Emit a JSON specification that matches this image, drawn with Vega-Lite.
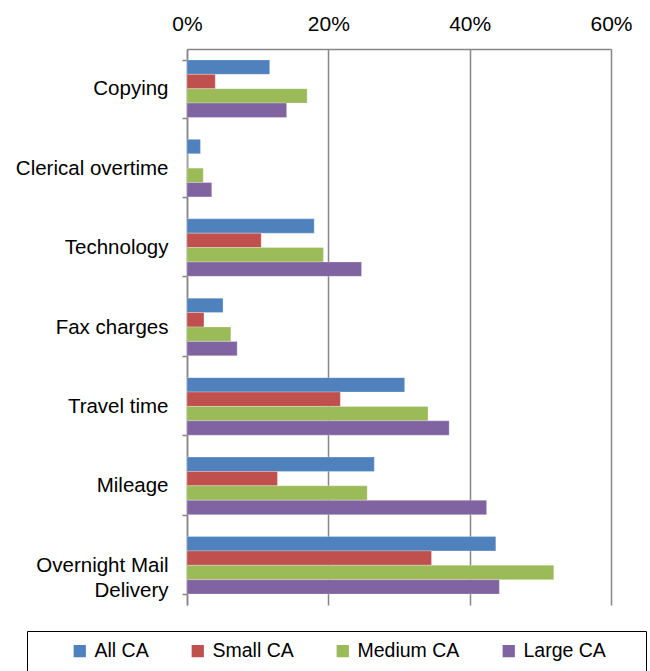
{
  "$schema": "https://vega.github.io/schema/vega-lite/v6.json",
  "autosize": {"type": "none"},
  "width": 424,
  "height": 556,
  "padding": {"left": 187, "top": 49, "right": 39, "bottom": 66},
  "background": "white",
  "config": {
    "font": "Liberation Sans, Arial, sans-serif",
    "view": {"stroke": null}
  },
  "data": {
    "values": [
      {"expense": "Copying", "group": "All CA", "value": 0.117},
      {"expense": "Copying", "group": "Small CA", "value": 0.040},
      {"expense": "Copying", "group": "Medium CA", "value": 0.170},
      {"expense": "Copying", "group": "Large CA", "value": 0.141},
      {"expense": "Clerical overtime", "group": "All CA", "value": 0.019},
      {"expense": "Clerical overtime", "group": "Small CA", "value": 0.0},
      {"expense": "Clerical overtime", "group": "Medium CA", "value": 0.023},
      {"expense": "Clerical overtime", "group": "Large CA", "value": 0.035},
      {"expense": "Technology", "group": "All CA", "value": 0.180},
      {"expense": "Technology", "group": "Small CA", "value": 0.105},
      {"expense": "Technology", "group": "Medium CA", "value": 0.193},
      {"expense": "Technology", "group": "Large CA", "value": 0.247},
      {"expense": "Fax charges", "group": "All CA", "value": 0.051},
      {"expense": "Fax charges", "group": "Small CA", "value": 0.024},
      {"expense": "Fax charges", "group": "Medium CA", "value": 0.062},
      {"expense": "Fax charges", "group": "Large CA", "value": 0.071},
      {"expense": "Travel time", "group": "All CA", "value": 0.308},
      {"expense": "Travel time", "group": "Small CA", "value": 0.217},
      {"expense": "Travel time", "group": "Medium CA", "value": 0.341},
      {"expense": "Travel time", "group": "Large CA", "value": 0.371},
      {"expense": "Mileage", "group": "All CA", "value": 0.265},
      {"expense": "Mileage", "group": "Small CA", "value": 0.128},
      {"expense": "Mileage", "group": "Medium CA", "value": 0.255},
      {"expense": "Mileage", "group": "Large CA", "value": 0.424},
      {"expense": "Overnight Mail Delivery", "group": "All CA", "value": 0.437},
      {"expense": "Overnight Mail Delivery", "group": "Small CA", "value": 0.346},
      {"expense": "Overnight Mail Delivery", "group": "Medium CA", "value": 0.519},
      {"expense": "Overnight Mail Delivery", "group": "Large CA", "value": 0.442}
    ]
  },
  "mark": {"type": "bar", "stroke": "white", "strokeOpacity": 0.5, "strokeWidth": 0.5},
  "encoding": {
    "y": {
      "field": "expense",
      "type": "nominal",
      "sort": ["Copying", "Clerical overtime", "Technology", "Fax charges", "Travel time", "Mileage", "Overnight Mail Delivery"],
      "scale": {"paddingInner": 0.275, "paddingOuter": 0.1375},
      "axis": {
        "title": null,
        "tickBand": "extent",
        "domainColor": "#868686",
        "domainWidth": 1.5,
        "tickColor": "#868686",
        "tickWidth": 1.5,
        "tickSize": 5,
        "labelPadding": 14,
        "labelFontSize": 20.5,
        "labelColor": "black",
        "labelLineHeight": 25,
        "labelLimit": 300,
        "labelExpr": "datum.label == 'Overnight Mail Delivery' ? ['Overnight Mail', 'Delivery'] : datum.label"
      }
    },
    "yOffset": {
      "field": "group",
      "type": "nominal",
      "sort": ["All CA", "Small CA", "Medium CA", "Large CA"]
    },
    "x": {
      "field": "value",
      "type": "quantitative",
      "scale": {"domain": [0, 0.6], "nice": false},
      "axis": {
        "orient": "top",
        "title": null,
        "format": ".0%",
        "values": [0, 0.2, 0.4, 0.6],
        "grid": true,
        "gridColor": "#868686",
        "gridWidth": 1.5,
        "domainColor": "#868686",
        "domainWidth": 1.5,
        "ticks": false,
        "labelPadding": 15,
        "labelFontSize": 21,
        "labelColor": "black",
        "labelFlush": false
      }
    },
    "color": {
      "field": "group",
      "type": "nominal",
      "sort": ["All CA", "Small CA", "Medium CA", "Large CA"],
      "scale": {
        "domain": ["All CA", "Small CA", "Medium CA", "Large CA"],
        "range": ["#4F81BD", "#C0504D", "#9BBB59", "#8064A2"]
      },
      "legend": {
        "title": "\u00a0",
        "titleOrient": "left",
        "titleFontSize": 19.5,
        "titlePadding": 33,
        "orient": "none",
        "legendX": -160,
        "legendY": 582,
        "direction": "horizontal",
        "symbolType": "square",
        "symbolSize": 150,
        "symbolStrokeWidth": 0,
        "labelFontSize": 19.5,
        "labelColor": "black",
        "labelOffset": 5,
        "columnPadding": 39,
        "padding": 10,
        "labelExpr": "datum.label == 'Large CA' ? 'Large CA\u2002\u2002\u2002\u200b' : datum.label",
        "strokeColor": "black",
        "fillColor": "white"
      }
    }
  }
}
